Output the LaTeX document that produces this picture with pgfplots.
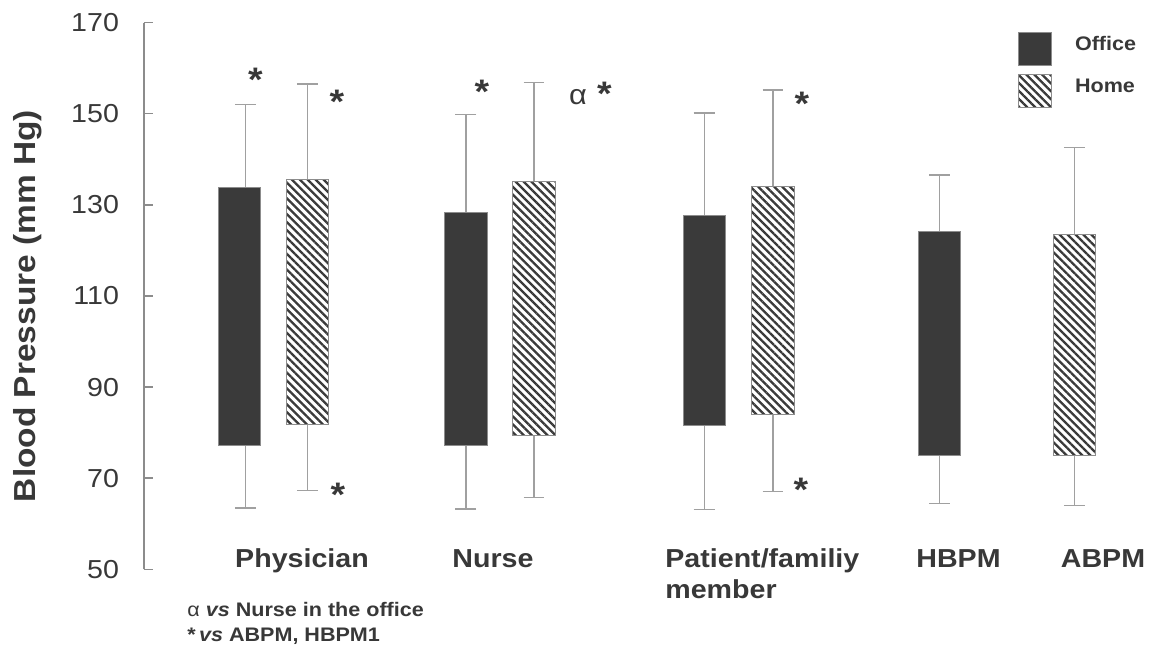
\documentclass[border=0pt]{standalone}
\usepackage{pgfplots}
\pgfplotsset{compat=1.18}
\usepgfplotslibrary{statistics}
\usetikzlibrary{patterns.meta}
\usepackage{fontspec}
\setmainfont{Liberation Sans}[FakeStretch=1.1]
\definecolor{barfill}{HTML}{3A3A3A}
\definecolor{edge}{HTML}{8C8C8C}
\definecolor{whisk}{HTML}{A0A0A0}
\definecolor{txt}{HTML}{383838}
\newcommand\catfont{\fontsize{13}{15}\selectfont\bfseries}
\newcommand\starfont{\fontsize{17}{19}\selectfont\bfseries}
\newcommand\notefont{\fontsize{9.8}{12}\selectfont}
\begin{document}
\begin{tikzpicture}
\begin{axis}[
  x=0.5pt, y=2.2775pt,
  xmin=144, xmax=1149, ymin=50, ymax=170,
  axis y line=left, axis x line=none,
  ytick={50,70,...,170}, xtick=\empty,
  tick align=inside, major tick length=4.5pt,
  y axis line style={draw=edge, line width=0.7pt, -},
  ytick style={draw=edge, line width=0.7pt},
  yticklabel style={font=\fontsize{13}{15}\selectfont, text=txt, xshift=-9pt},
  /pgf/number format/assume math mode=true,
  boxplot/draw direction=y,
  clip=false,
  legend style={at={(axis cs:1018,167.96)}, anchor=north west, draw=none, fill=none,
    inner sep=0pt, outer sep=0pt, font=\fontsize{9.8}{11}\selectfont\bfseries, text=txt,
    row sep=4.25pt, nodes={inner sep=0pt},
    /tikz/every odd column/.append style={column sep=11.5pt}},
  legend cell align=left,
  legend image code/.code={\draw[#1] (0pt,-10.5pt) rectangle (16.5pt,6pt);},
  office/.style={draw=edge, line width=0.5pt, fill=barfill,
    boxplot/every whisker/.style={draw=whisk, line width=0.7pt},
    boxplot/every median/.style={draw=edge, line width=0.5pt}},
  home/.style={draw=edge, line width=0.5pt,
    boxplot/every box/.style={pattern={Lines[angle=-45,distance=2.8pt,line width=1.15pt]}, pattern color=barfill},
    boxplot/every whisker/.style={draw=whisk, line width=0.7pt},
    boxplot/every median/.style={draw=edge, line width=0.5pt}},
]
\addlegendimage{draw=edge, line width=0.5pt, fill=barfill}
\addlegendentry{Office}
\addlegendimage{draw=edge, line width=0.5pt, pattern={Lines[angle=-45,distance=2.8pt,line width=1.15pt]}, pattern color=barfill}
\addlegendentry{Home}

% Physician office: box, whiskers slightly to the right
\addplot[office, forget plot, boxplot prepared={lower whisker=77.1, lower quartile=77.1, median=77.1,
  upper quartile=133.9, upper whisker=133.9, draw position=239.5, box extend=42.4, whisker extend=0}] coordinates {};
\addplot[draw=none, forget plot, boxplot/every whisker/.style={draw=whisk, line width=0.7pt},
  boxplot/every box/.style={draw=none}, boxplot/every median/.style={draw=none},
  boxplot prepared={lower whisker=63.5, lower quartile=77.1, median=77.1,
  upper quartile=133.9, upper whisker=152.1, draw position=245.3, box extend=0.01, whisker extend=20.7}] coordinates {};
% Physician home
\addplot[home, forget plot, boxplot prepared={lower whisker=67.3, lower quartile=81.7, median=81.7,
  upper quartile=135.6, upper whisker=156.5, draw position=307.2, box extend=42.4, whisker extend=20.7}] coordinates {};
% Nurse office
\addplot[office, forget plot, boxplot prepared={lower whisker=63.2, lower quartile=77.1, median=77.1,
  upper quartile=128.3, upper whisker=149.8, draw position=465.8, box extend=42.4, whisker extend=20.7}] coordinates {};
% Nurse home
\addplot[home, forget plot, boxplot prepared={lower whisker=65.8, lower quartile=79.4, median=79.4,
  upper quartile=135.1, upper whisker=156.9, draw position=534, box extend=42.4, whisker extend=20.7}] coordinates {};
% Patient office
\addplot[office, forget plot, boxplot prepared={lower whisker=63.1, lower quartile=81.6, median=81.6,
  upper quartile=127.7, upper whisker=150.2, draw position=704.2, box extend=42.4, whisker extend=20.7}] coordinates {};
% Patient home
\addplot[home, forget plot, boxplot prepared={lower whisker=67.1, lower quartile=83.9, median=83.9,
  upper quartile=134.0, upper whisker=155.2, draw position=773, box extend=42.4, whisker extend=20.7}] coordinates {};
% HBPM (office style)
\addplot[office, forget plot, boxplot prepared={lower whisker=64.4, lower quartile=74.9, median=74.9,
  upper quartile=124.1, upper whisker=136.6, draw position=939.5, box extend=42.4, whisker extend=20.7}] coordinates {};
% ABPM (home style)
\addplot[home, forget plot, boxplot prepared={lower whisker=64.0, lower quartile=74.9, median=74.9,
  upper quartile=123.5, upper whisker=142.6, draw position=1074.3, box extend=42.4, whisker extend=20.7}] coordinates {};

% significance marks
\node[anchor=north, inner sep=0pt, font=\starfont, text=txt] at (axis cs:255.5,160.06) {*};
\node[anchor=north, inner sep=0pt, font=\starfont, text=txt] at (axis cs:337,155.23) {*};
\node[anchor=north, inner sep=0pt, font=\starfont, text=txt] at (axis cs:338,69.01) {*};
\node[anchor=north, inner sep=0pt, font=\starfont, text=txt] at (axis cs:482,157.42) {*};
\node[anchor=base, inner sep=0pt, font=\fontsize{14}{16}\selectfont, text=txt] at (axis cs:578,151.93) {α};
\node[anchor=north, inner sep=0pt, font=\starfont, text=txt] at (axis cs:604.5,156.98) {*};
\node[anchor=north, inner sep=0pt, font=\starfont, text=txt] at (axis cs:802,154.79) {*};
\node[anchor=north, inner sep=0pt, font=\starfont, text=txt] at (axis cs:801,70.04) {*};

% category labels
\node[anchor=base, inner sep=0pt, font=\catfont, text=txt] at (axis cs:302,50.29) {Physician};
\node[anchor=base, inner sep=0pt, font=\catfont, text=txt] at (axis cs:493,50.29) {Nurse};
\node[anchor=base west, inner sep=0pt, font=\catfont, text=txt] at (axis cs:665,50.29) {Patient/familiy};
\node[anchor=base west, inner sep=0pt, font=\catfont, text=txt] at (axis cs:665,43.48) {member};
\node[anchor=base, inner sep=0pt, font=\catfont, text=txt] at (axis cs:958.5,50.29) {HBPM};
\node[anchor=base, inner sep=0pt, font=\catfont, text=txt] at (axis cs:1103,50.29) {ABPM};

% y label
\node[rotate=90, inner sep=0pt, font=\fontsize{15.2}{17}\selectfont\bfseries, text=txt] at (axis cs:28,107.8) {Blood Pressure (mm Hg)};

% footnote
\node[anchor=base west, inner sep=0pt, font=\notefont, text=txt] at (axis cs:187,39.53) {α \textbf{\textit{vs}} \textbf{Nurse in the office}};
\node[anchor=base west, inner sep=0pt, font=\notefont, text=txt] at (axis cs:187,34.04) {\textbf{*\,\textit{vs} ABPM, HBPM1}};

% page frame
\path (axis cs:0,32.72) rectangle (axis cs:1149,174.98);
\end{axis}
\end{tikzpicture}
\end{document}
